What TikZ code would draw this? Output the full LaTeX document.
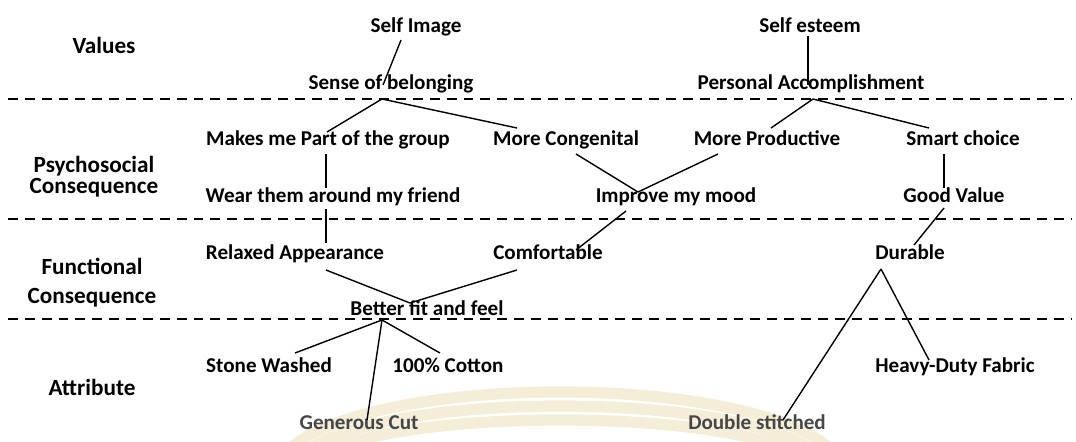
\documentclass[tikz,border=0pt]{standalone}
\usepackage{fontspec}
\setmainfont{Carlito}
\usetikzlibrary{calc}

\definecolor{swooshtan}{RGB}{240,230,200}
\definecolor{attrgray}{RGB}{70,70,70}

\begin{document}
\begin{tikzpicture}[
  x=0.025cm, y=-0.025cm,
  item/.style={font=\fontsize{15}{18}\selectfont\bfseries, anchor=base, inner sep=2pt},
  attr/.style={item, text=attrgray},
  level/.style={font=\fontsize{16.5}{20.6}\selectfont\bfseries, align=center, inner sep=0pt},
  link/.style={line width=1pt},
  sep/.style={line width=1.4pt, dash pattern=on 7pt off 5pt},
  swoosh/.style={line width=8pt, draw=swooshtan, opacity=0.7},
]
\useasboundingbox (0,0) rectangle (1076,441);

% faint background swoosh
\foreach \r/\h in {280/78, 265/64, 250/50}
  \draw[swoosh] ({560-\r},470) arc[start angle=180, end angle=360, x radius=\r, y radius=\h];

% === LEVEL SEPARATORS ===
\foreach \yy in {99, 219, 319}
  \draw[sep] (8,\yy) -- (1072,\yy);

% === LEVEL NAMES ===
\node[level] (lvalues) at (104,45) {Values};
\node[level] (lpsych) at (94,177) {Psychosocial\\[-5.6pt]Consequence};
\node[level] (lfunc) at (92,283) {Functional\\Consequence};
\node[level] (lattr) at (92,387) {Attribute};

% === VALUES ===
\node[item] (img) at (416,32) {Self Image};
\node[item] (belong) at (391,89) {Sense of belonging};
\node[item] (esteem) at (810,32) {Self esteem};
\node[item] (accomp) at (811,89) {Personal Accomplishment};

% === PSYCHOSOCIAL ===
\node[item] (group) at (328,145) {Makes me Part of the group};
\node[item] (congen) at (566,145) {More Congenital};
\node[item] (product) at (767,145) {More Productive};
\node[item] (smart) at (963,145) {Smart choice};
\node[item] (friend) at (333,202) {Wear them around my friend};
\node[item] (mood) at (676,202) {Improve my mood};
\node[item] (value) at (954,202) {Good Value};

% === FUNCTIONAL ===
\node[item] (relaxed) at (295,259) {Relaxed Appearance};
\node[item] (comfort) at (548,259) {Comfortable};
\node[item] (durable) at (910,259) {Durable};
\node[item] (fit) at (427,315) {Better fit and feel};

% === ATTRIBUTES ===
\node[item] (stone) at (269,372) {Stone Washed};
\node[item] (cotton) at (448,372) {100\% Cotton};
\node[item] (heavy) at (955,372) {Heavy-Duty Fabric};
\node[attr] (cut) at (359,429) {Generous Cut};
\node[attr] (stitch) at (757,429) {Double stitched};

% junction points
\coordinate (jbelong) at (382,99);
\coordinate (jaccomp) at (813,99);
\coordinate (jfit) at (382,320);
\coordinate (jdurable) at (881,269);

% === LADDER LINKS ===
\draw[link] ($(img.base)+(-15,8)$) -- ($(belong.base)+(-8,-4)$);
\draw[link] ($(esteem.base)+(-2,4)$) -- ($(accomp.base)+(-3,-4)$);
\draw[link] (jbelong) -- ($(group.base)+(-1,-13)$);
\draw[link] (jbelong) -- ($(congen.base)+(-49,-17)$);
\draw[link] (jaccomp) -- ($(product.base)+(4,-17)$);
\draw[link] (jaccomp) -- ($(smart.base)+(-34,-17)$);
\draw[link] ($(group.base)+(-2,9)$) -- ($(friend.base)+(-7,-14)$);
\draw[link] ($(friend.base)+(-7,7)$) -- ($(relaxed.base)+(31,-16)$);
\draw[link] ($(congen.base)+(10,9)$) -- ($(mood.base)+(-38,-10)$);
\draw[link] ($(product.base)+(-49,9)$) -- ($(mood.base)+(-38,-10)$);
\draw[link] ($(mood.base)+(-50,9)$) -- ($(comfort.base)+(28,-9)$);
\draw[link] ($(smart.base)+(-19,9)$) -- ($(value.base)+(-10,-14)$);
\draw[link] ($(value.base)+(-10,6)$) -- ($(durable.base)+(4,-14)$);
\draw[link] ($(relaxed.base)+(31,11)$) -- ($(fit.base)+(-17,-12)$);
\draw[link] ($(comfort.base)+(-31,11)$) -- ($(fit.base)+(-17,-12)$);
\draw[link] (jfit) -- ($(stone.base)+(26,-19)$);
\draw[link] (jfit) -- ($(cotton.base)+(-8,-19)$);
\draw[link] (jfit) -- ($(cut.base)+(8,-9)$);
\draw[link] (jdurable) -- ($(stitch.base)+(26,-9)$);
\draw[link] (jdurable) -- ($(heavy.base)+(-26,-12)$);
\end{tikzpicture}
\end{document}
